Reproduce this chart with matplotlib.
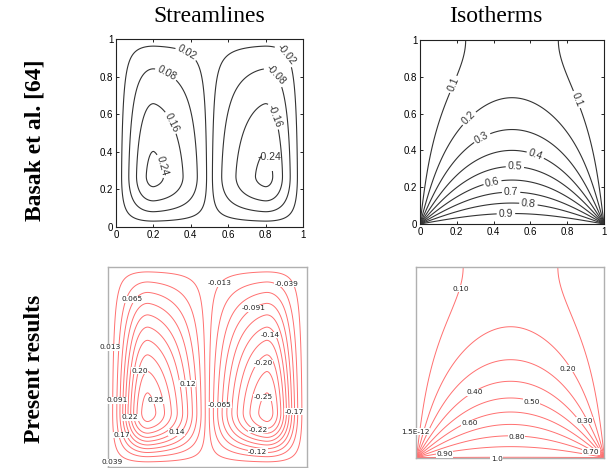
import numpy as np
import matplotlib
matplotlib.use("Agg")
import matplotlib.pyplot as plt

# ---------------- data ----------------
col_titles = ["Streamlines", "Isotherms"]
row_titles = ["Basak et al. [64]", "Present results"]
tick_values = [0, 0.2, 0.4, 0.6, 0.8, 1.0]
tick_labels = ["0", "0.2", "0.4", "0.6", "0.8", "1"]

# stream-function model
psi_peak = 0.26          # |psi| at the cell eyes
eye_x = 0.2              # left eye x (right eye mirrored at 0.8)
eye_y = 0.27             # eye height

basak_psi_levels = [-0.24, -0.16, -0.08, -0.02, 0.02, 0.08, 0.16, 0.24]
basak_psi_labels = ["-0.24", "-0.16", "-0.08", "-0.02", "0.02", "0.08", "0.16", "0.24"]
basak_theta_levels = [0.1, 0.2, 0.3, 0.4, 0.5, 0.6, 0.7, 0.8, 0.9]
basak_theta_labels = ["0.1", "0.2", "0.3", "0.4", "0.5", "0.6", "0.7", "0.8", "0.9"]

present_psi_levels = [-0.247, -0.221, -0.195, -0.169, -0.143, -0.117, -0.091, -0.065,
                      -0.039, -0.013, 0.013, 0.039, 0.065, 0.091, 0.117, 0.143,
                      0.169, 0.195, 0.221, 0.247]
present_psi_labels = ["0.065", "-0.013", "-0.039", "-0.091", "-0.14", "0.013", "-0.20",
                      "0.20", "0.12", "0.25", "0.091", "-0.065", "-0.25", "-0.17",
                      "0.22", "-0.22", "0.14", "0.17", "-0.12", "0.039"]
present_theta_levels = [1.5e-12, 0.1, 0.2, 0.3, 0.4, 0.5, 0.6, 0.7, 0.8, 0.9, 1.0]
present_theta_labels = ["0.10", "0.20", "0.40", "0.50", "0.30", "0.60", "0.80",
                        "0.70", "0.90", "1.0", "1.5E-12"]

# ---------------- layout (label anchors, axes boxes) ----------------
basak_psi_label_pos = [(0.381, 0.932), (0.271, 0.821), (0.289, 0.552), (0.232, 0.321),
                       (0.948, 0.945), (0.868, 0.821), (0.841, 0.587), (0.806, 0.365)]
basak_theta_label_pos = [(0.19, 0.755), (0.824, 0.665), (0.272, 0.569), (0.339, 0.465),
                         (0.625, 0.37), (0.516, 0.315), (0.393, 0.23), (0.495, 0.172),
                         (0.589, 0.107), (0.467, 0.058)]
present_psi_label_pos = [(0.119, 0.838), (0.564, 0.918), (0.900, 0.915), (0.732, 0.793),
                         (0.816, 0.659), (0.010, 0.598), (0.782, 0.517), (0.158, 0.479),
                         (0.401, 0.414), (0.240, 0.333), (0.044, 0.333), (0.561, 0.308),
                         (0.782, 0.347), (0.937, 0.275), (0.111, 0.247), (0.757, 0.183),
                         (0.346, 0.171), (0.069, 0.158), (0.754, 0.074), (0.019, 0.021)]
present_theta_label_pos = [(0.237, 0.885), (0.807, 0.465), (0.311, 0.342), (0.613, 0.293),
                           (0.893, 0.192), (0.285, 0.180), (0.533, 0.109), (0.928, 0.030),
                           (0.148, 0.018), (0.427, -0.008), (-0.008, 0.135)]

W, H = 610, 468
def box(l, t, r, b):
    return [l / W, 1 - b / H, (r - l) / W, (b - t) / H]

# ---------------- fields ----------------
n = 601
g = np.linspace(0, 1, n)
X, Y = np.meshgrid(g, g)

def rise_sin(s, p):
    return np.sin(0.5 * np.pi * np.clip(s, 0, 1)) ** p

def rise_pow(s, q):
    return 1 - (1 - np.clip(s, 0, 1)) ** q

def profile(s, peak, p_lo, q_hi):
    lo = rise_sin(s / peak, p_lo)
    hi = rise_pow((1 - s) / (1 - peak), q_hi)
    return np.where(s <= peak, lo, hi)

u = np.where(X <= 0.5, 2 * X, 2 * (1 - X))
sgn = np.where(X <= 0.5, 1.0, -1.0)
PSI = sgn * psi_peak * profile(u, 2 * eye_x, 1.76, 1.5) * profile(Y, eye_y, 1.5, 1.5)

S = np.sin(np.pi * X)
T1 = (2 / np.pi) * np.arctan2(S, np.sinh(np.pi * Y))
T2 = (2 / np.pi) * np.arctan2(S, np.sinh(np.pi * (2 - Y)))
THETA = (T1 + T2) ** 0.9

# ---------------- figure ----------------
plt.rcParams["font.family"] = ["Liberation Sans", "DejaVu Sans"]
plt.rcParams["contour.negative_linestyle"] = "solid"
fig = plt.figure(figsize=(W / 100, H / 100), dpi=100)

ax_tl = fig.add_axes(box(116, 39, 303, 227))
ax_tr = fig.add_axes(box(420, 40, 604, 224))
ax_bl = fig.add_axes(box(108, 267, 306.5, 466.5))
ax_br = fig.add_axes(box(416.5, 267, 604.5, 457.5))

for ax in (ax_tl, ax_tr):
    ax.set_xlim(0, 1); ax.set_ylim(0, 1)
    ax.set_xticks(tick_values); ax.set_xticklabels(tick_labels)
    ax.set_yticks(tick_values); ax.set_yticklabels(tick_labels)
    ax.tick_params(direction="in", length=2.5, width=0.6, labelsize=7, pad=2,
                   top=True, right=True)
    for sp in ax.spines.values():
        sp.set_linewidth(0.8); sp.set_color("#222222")

for ax in (ax_bl, ax_br):
    ax.set_xlim(0, 1); ax.set_ylim(0, 1)
    ax.set_xticks([]); ax.set_yticks([])
    for sp in ax.spines.values():
        sp.set_linewidth(1.0); sp.set_color("#b0b0b0")

# Basak streamlines
cs = ax_tl.contour(X, Y, PSI, levels=basak_psi_levels, colors="#333333",
                   linewidths=0.8, linestyles="solid")
tl_texts = ax_tl.clabel(cs, fmt=dict(zip(basak_psi_levels, basak_psi_labels)),
                        fontsize=7.5, inline=True, inline_spacing=2,
                        manual=basak_psi_label_pos)
for t in tl_texts:
    if t.get_text() == "-0.24":
        t.set_rotation(0)

# Basak isotherms
ct = ax_tr.contour(X, Y, THETA, levels=basak_theta_levels, colors="#333333",
                   linewidths=0.8, linestyles="solid")
ax_tr.clabel(ct, fmt=dict(zip(basak_theta_levels, basak_theta_labels)), fontsize=7.5,
             inline=True, inline_spacing=2, manual=basak_theta_label_pos)

# Present streamlines
red = "#ff7070"
ax_bl.contour(X, Y, PSI, levels=present_psi_levels, colors=red, linewidths=0.7,
              linestyles="solid")
for lab, (px, py) in zip(present_psi_labels, present_psi_label_pos):
    ax_bl.text(px, py, lab, ha="center", va="center", fontsize=5.3, color="#222222",
               family="DejaVu Sans", clip_on=False,
               bbox=dict(fc="white", ec="none", pad=0.3))

# Present isotherms
ax_br.contour(X, Y, THETA, levels=present_theta_levels, colors=red, linewidths=0.7,
              linestyles="solid")
for lab, (px, py) in zip(present_theta_labels, present_theta_label_pos):
    ax_br.text(px, py, lab, ha="center", va="center", fontsize=5.3, color="#222222",
               family="DejaVu Sans", clip_on=False,
               bbox=dict(fc="white", ec="none", pad=0.3))

# titles
fig.text(209 / W, 1 - 17 / H, col_titles[0], ha="center", va="center",
         fontsize=17, family="Liberation Serif")
fig.text(496 / W, 1 - 17 / H, col_titles[1], ha="center", va="center",
         fontsize=17, family="Liberation Serif")
fig.text(35 / W, 1 - 140 / H, row_titles[0], ha="center", va="center", rotation=90,
         fontsize=17, fontweight="bold", family="Liberation Serif")
fig.text(35 / W, 1 - 369 / H, row_titles[1], ha="center", va="center", rotation=90,
         fontsize=17, fontweight="bold", family="Liberation Serif")

fig.savefig("out.png", dpi=100)
